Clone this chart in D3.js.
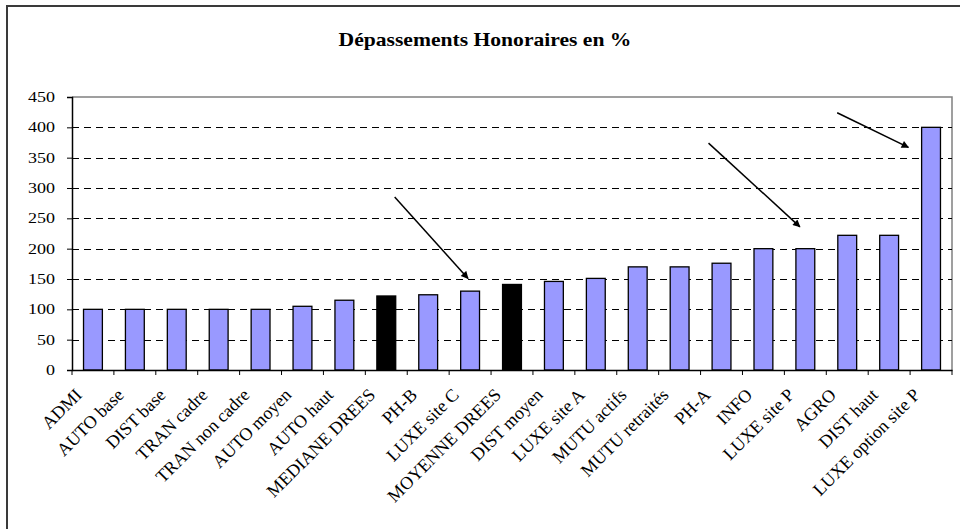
<!DOCTYPE html>
<html>
<head>
<meta charset="utf-8">
<script src="https://cdn.jsdelivr.net/npm/d3@7"></script>
<style>
    body { margin: 0; background: #fff; }
    svg { display: block; }
</style>
</head>
<body>
<svg id="chart"></svg>
<script>

const categories = ["ADMI", "AUTO base", "DIST base", "TRAN cadre", "TRAN non cadre", "AUTO moyen",
    "AUTO haut", "MEDIANE DREES", "PH-B", "LUXE site C", "MOYENNE DREES", "DIST moyen",
    "LUXE site A", "MUTU actifs", "MUTU retraités", "PH-A", "INFO", "LUXE site P", "AGRO",
    "DIST haut", "LUXE option site P"];

const values = [100, 100, 100, 100, 100, 105, 115, 122, 124, 130, 141, 146, 151, 170, 170, 176,
    200, 200, 222, 222, 400];

// reference bars (DREES) drawn in black
const highlighted = ["MEDIANE DREES", "MOYENNE DREES"];

const yTicks = [0, 50, 100, 150, 200, 250, 300, 350, 400, 450];

const title = "Dépassements Honoraires en %";

// arrows : [start band position, start value, end band position, end value]
const arrows = [
    [7.70, 285, 9.45, 151],
    [15.19, 374, 17.37, 236],
    [18.26, 424, 19.96, 367]
];

const width = 960, height = 529;
const margin = {left: 72, top: 97, right: 8, bottom: 159}; // plot area
const stretch = 1.2; // text in the picture is a bit wide

const svg = d3.select("#chart")
    .attr("width", width)
    .attr("height", height);

// outer frame (only top and left visible)
svg.append("path")
    .attr("d", `M7,${height} L7,6 L${width},6`)
    .attr("fill", "none")
    .attr("stroke", "#3a3a3a")
    .attr("stroke-width", 2);

const x = d3.scaleBand()
    .domain(categories)
    .range([margin.left, width - margin.right])
    .paddingInner(0)
    .paddingOuter(0);

const y = d3.scaleLinear()
    .domain([0, 450])
    .range([height - margin.bottom, margin.top]);

const bw = x.bandwidth();
const barWidth = bw * 0.45;

// plot area border (top / right in grey)
svg.append("path")
    .attr("d", `M${margin.left},${y(450)} L${width - margin.right},${y(450)} L${width - margin.right},${y(0)}`)
    .attr("fill", "none")
    .attr("stroke", "#808080")
    .attr("stroke-width", 1.5);

// dashed grid
svg.append("g")
    .selectAll("line")
    .data(yTicks.filter(d => d > 0 && d < 450))
    .join("line")
    .attr("x1", margin.left)
    .attr("x2", width - margin.right)
    .attr("y1", d => Math.round(y(d)) + 0.5)
    .attr("y2", d => Math.round(y(d)) + 0.5)
    .attr("stroke", "#000")
    .attr("stroke-width", 1)
    .attr("stroke-dasharray", "7,5");

// bars
svg.append("g")
    .selectAll("rect")
    .data(categories)
    .join("rect")
    .attr("x", d => x(d) + (bw - barWidth) / 2)
    .attr("y", (d, i) => y(values[i]))
    .attr("width", barWidth)
    .attr("height", (d, i) => y(0) - y(values[i]))
    .attr("fill", d => highlighted.includes(d) ? "#000000" : "#9999FF")
    .attr("stroke", "#000")
    .attr("stroke-width", 1.3);

// y axis
const yAxis = svg.append("g")
    .attr("transform", `translate(${margin.left},0)`)
    .call(d3.axisLeft(y).tickValues(yTicks).tickSize(5).tickFormat(""));
yAxis.select(".domain").attr("stroke", "#000").attr("stroke-width", 1.5);

svg.append("g")
    .selectAll("text")
    .data(yTicks)
    .join("text")
    .attr("transform", d => `translate(${margin.left - 17},${y(d) + 5}) scale(${stretch},1)`)
    .attr("text-anchor", "end")
    .attr("font-family", "Liberation Serif, Times New Roman, serif")
    .attr("font-size", 15)
    .text(d => d);

// x axis with ticks between bands
const xAxis = svg.append("g")
    .attr("transform", `translate(0,${y(0)})`)
    .call(d3.axisBottom(x).tickSize(0).tickFormat(""));
xAxis.select(".domain").attr("stroke", "#000").attr("stroke-width", 1.5);

svg.append("g")
    .selectAll("line")
    .data(d3.range(categories.length + 1))
    .join("line")
    .attr("x1", i => margin.left + i * bw)
    .attr("x2", i => margin.left + i * bw)
    .attr("y1", y(0))
    .attr("y2", y(0) + 5)
    .attr("stroke", "#000");

// rotated category labels
svg.append("g")
    .selectAll("text")
    .data(categories)
    .join("text")
    .attr("transform", d => `translate(${x(d) + bw / 2 - 10},396) rotate(-45)`)
    .attr("text-anchor", "end")
    .attr("font-family", "Liberation Serif, Times New Roman, serif")
    .attr("font-size", 18)
    .text(d => d);

// title
svg.append("text")
    .attr("transform", `translate(${(margin.left + width - margin.right) / 2 - 27},46) scale(${stretch},1)`)
    .attr("text-anchor", "middle")
    .attr("font-family", "Liberation Serif, Times New Roman, serif")
    .attr("font-weight", "bold")
    .attr("font-size", 18)
    .text(title);

// arrows
svg.append("defs").append("marker")
    .attr("id", "head")
    .attr("viewBox", "0 0 10 10")
    .attr("refX", 9)
    .attr("refY", 5)
    .attr("markerWidth", 6)
    .attr("markerHeight", 5)
    .attr("orient", "auto")
    .append("path")
    .attr("d", "M0,0 L10,5 L0,10 Z")
    .attr("fill", "#000");

const bandPos = p => margin.left + p * bw;

svg.append("g")
    .selectAll("line")
    .data(arrows)
    .join("line")
    .attr("x1", d => bandPos(d[0]))
    .attr("y1", d => y(d[1]))
    .attr("x2", d => bandPos(d[2]))
    .attr("y2", d => y(d[3]))
    .attr("stroke", "#000")
    .attr("stroke-width", 1.5)
    .attr("marker-end", "url(#head)");

</script>
</body>
</html>
